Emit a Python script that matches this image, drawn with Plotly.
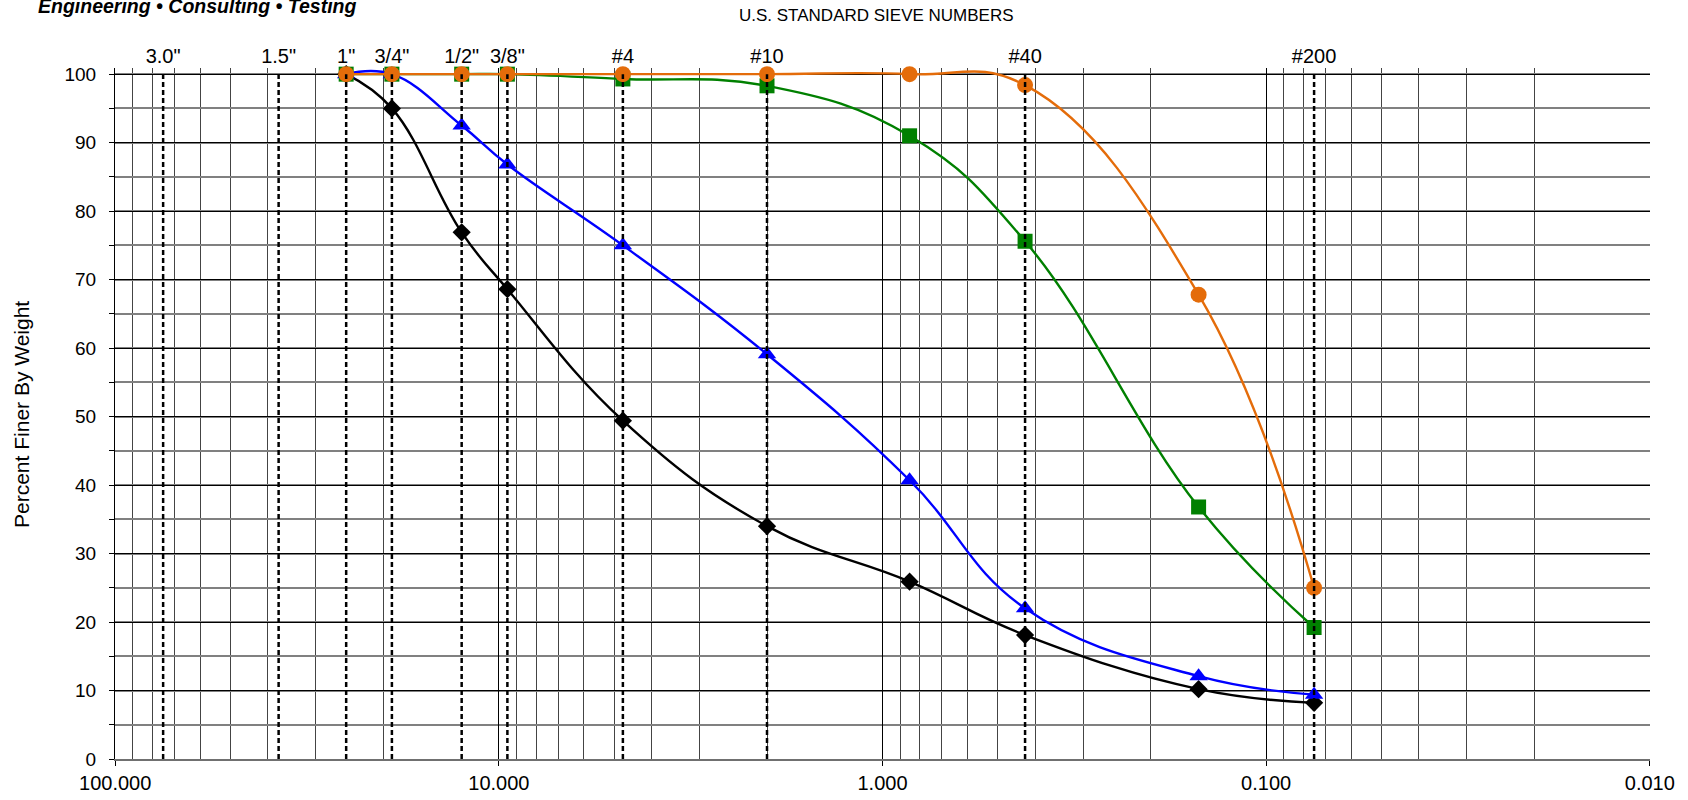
import plotly.graph_objects as go

# ---- data ----
sieve_sizes_mm = [75, 37.5, 25, 19, 12.5, 9.5, 4.75, 2.0, 0.425, 0.075]
sieve_labels = ['3.0"', '1.5"', '1"', '3/4"', '1/2"', '3/8"', '#4', '#10', '#40', '#200']

test_sizes_mm = [25, 19, 12.5, 9.5, 4.75, 2.0, 0.85, 0.425, 0.15, 0.075]
black_pct = [100, 95.0, 76.9, 68.6, 49.4, 34.0, 25.9, 18.1, 10.2, 8.2]
blue_pct = [100, 100, 92.5, 86.8, 75.0, 59.1, 40.7, 22.0, 12.1, 9.4]
green_pct = [100, 100, 100, 100, 99.3, 98.3, 91.0, 75.6, 36.8, 19.2]
orange_pct = [100, 100, 100, 100, 100, 100, 100, 98.4, 67.8, 25.0]

x_tick_vals = [100, 10, 1, 0.1, 0.01]
x_tick_text = ["100.000", "10.000", "1.000", "0.100", "0.010"]
y_tick_vals = list(range(0, 101, 10))

FONT = "Liberation Sans, Arial, sans-serif"

fig = go.Figure()

# dashed sieve lines (on the top axis)
for s in sieve_sizes_mm:
    fig.add_trace(go.Scatter(
        x=[s, s], y=[0, 100], mode="lines", xaxis="x2",
        line=dict(color="black", width=2.5, dash="5px,3px"),
        hoverinfo="skip", showlegend=False))

series = [
    (black_pct, "black", "diamond", 14),
    (blue_pct, "#0000FF", "triangle-up", 16),
    (green_pct, "#008000", "square", 15),
    (orange_pct, "#E46C0A", "circle", 16),
]
for vals, col, sym, sz in series:
    fig.add_trace(go.Scatter(
        x=test_sizes_mm, y=vals, mode="lines+markers",
        line=dict(color=col, width=2.4, shape="spline", smoothing=1.2),
        marker=dict(color=col, symbol=sym, size=sz),
        showlegend=False, cliponaxis=False))

minor_x = [m * 10 ** e for e in range(-2, 2) for m in range(2, 10)]

fig.update_layout(
    width=1688, height=800,
    margin=dict(l=115, r=38, t=68, b=41, autoexpand=False),
    paper_bgcolor="white", plot_bgcolor="white",
    font=dict(family=FONT, size=16, color="black"),
    xaxis=dict(
        type="log", range=[2.0005, -2.0005], automargin=False,
        tickvals=x_tick_vals, ticktext=x_tick_text,
        ticks="outside", ticklen=5, tickcolor="black",
        ticklabelstandoff=0,
        showgrid=True, gridcolor="black", gridwidth=1,
        showline=True, linecolor="#707070", linewidth=2,
        zeroline=False,
        minor=dict(tickvals=minor_x, showgrid=True, gridcolor="#444444", gridwidth=1, ticks=""),
        tickfont=dict(size=20),
    ),
    xaxis2=dict(
        type="log", range=[2.0005, -2.0005], overlaying="x", side="top", automargin=False,
        tickvals=sieve_sizes_mm, ticktext=sieve_labels,
        ticks="", showgrid=False, showline=False, zeroline=False,
        tickfont=dict(size=20),
    ),
    yaxis=dict(
        range=[0, 100.9], tickvals=y_tick_vals, automargin=False,
        ticks="outside", ticklen=5, tickcolor="black",
        ticklabelstandoff=9,
        showgrid=True, gridcolor="black", gridwidth=1,
        showline=True, linecolor="black", linewidth=1,
        zeroline=False,
        minor=dict(dtick=5, tick0=0, showgrid=True, gridcolor="#808080", gridwidth=1.5,
                   ticks="outside", ticklen=5, tickcolor="black"),
        tickfont=dict(size=19),
    ),
    annotations=[
        dict(text="Percent Finer By Weight", textangle=-90, xref="paper", yref="paper",
             x=(21 - 115) / 1535, y=(759 - 415) / 691, showarrow=False, font=dict(size=21),
             xanchor="center", yanchor="middle"),
        dict(text="U.S. STANDARD SIEVE NUMBERS", xref="paper", yref="paper",
             x=(876 - 115) / 1535, y=(759 - 15) / 691, showarrow=False,
             font=dict(size=17), xanchor="center", yanchor="middle"),
        dict(text="<b><i>Engineering • Consulting • Testing</i></b>", xref="paper", yref="paper",
             x=(36 - 115) / 1535, y=(759 - 19) / 691, showarrow=False,
             font=dict(size=19.5), xanchor="left", yanchor="bottom"),
    ],
)

fig.write_html("out.html", config={"displayModeBar": False},
               post_script="document.body.style.margin='0';")
